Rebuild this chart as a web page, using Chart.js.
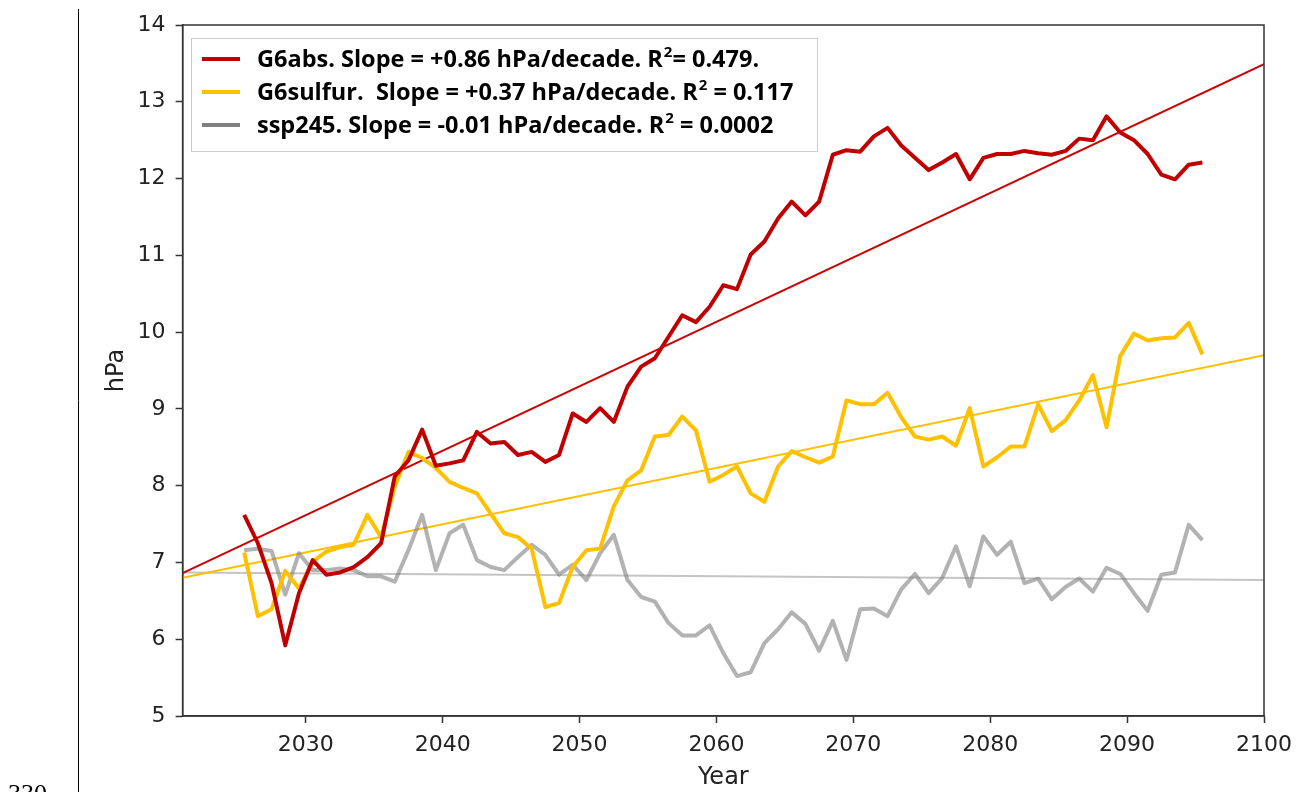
<!DOCTYPE html>
<html>
<head>
<meta charset="utf-8">
<title>Pressure trends</title>
<script src="https://cdn.jsdelivr.net/npm/chart.js@4.4.1/dist/chart.umd.min.js"></script>
<style>
  html, body { margin: 0; padding: 0; background: #fff; }
  #chart { display: block; }
</style>
</head>
<body>
<canvas id="chart" width="1298" height="792"></canvas>
<script>
// Years of the annual values
const years = [
  2025.5, 2026.5, 2027.5, 2028.5, 2029.5, 2030.5, 2031.5, 2032.5, 2033.5, 2034.5,
  2035.5, 2036.5, 2037.5, 2038.5, 2039.5, 2040.5, 2041.5, 2042.5, 2043.5, 2044.5,
  2045.5, 2046.5, 2047.5, 2048.5, 2049.5, 2050.5, 2051.5, 2052.5, 2053.5, 2054.5,
  2055.5, 2056.5, 2057.5, 2058.5, 2059.5, 2060.5, 2061.5, 2062.5, 2063.5, 2064.5,
  2065.5, 2066.5, 2067.5, 2068.5, 2069.5, 2070.5, 2071.5, 2072.5, 2073.5, 2074.5,
  2075.5, 2076.5, 2077.5, 2078.5, 2079.5, 2080.5, 2081.5, 2082.5, 2083.5, 2084.5,
  2085.5, 2086.5, 2087.5, 2088.5, 2089.5, 2090.5, 2091.5, 2092.5, 2093.5, 2094.5,
  2095.5
];

// hPa values per scenario
const g6absValues = [
  7.62, 7.25, 6.73, 5.92, 6.60, 7.03, 6.84, 6.87, 6.94, 7.07,
  7.25, 8.12, 8.33, 8.73, 8.26, 8.29, 8.33, 8.70, 8.55, 8.57,
  8.40, 8.44, 8.31, 8.40, 8.94, 8.83, 9.01, 8.83, 9.29, 9.55,
  9.66, 9.94, 10.22, 10.13, 10.33, 10.61, 10.56, 11.01, 11.18, 11.48,
  11.70, 11.52, 11.70, 12.31, 12.37, 12.35, 12.55, 12.66, 12.43, 12.27,
  12.11, 12.21, 12.32, 11.99, 12.27, 12.32, 12.32, 12.36, 12.33, 12.31,
  12.36, 12.52, 12.50, 12.81, 12.60, 12.50, 12.32, 12.05, 11.99, 12.18,
  12.21
];
const g6sulfurValues = [
  7.13, 6.30, 6.39, 6.89, 6.66, 7.01, 7.14, 7.20, 7.23, 7.62,
  7.33, 7.99, 8.44, 8.36, 8.23, 8.05, 7.97, 7.90, 7.64, 7.38,
  7.33, 7.18, 6.42, 6.47, 6.94, 7.16, 7.18, 7.73, 8.07, 8.20,
  8.64, 8.66, 8.90, 8.72, 8.05, 8.14, 8.25, 7.90, 7.79, 8.25,
  8.45, 8.37, 8.30, 8.38, 9.11, 9.06, 9.06, 9.21, 8.89, 8.64,
  8.60, 8.64, 8.52, 9.01, 8.25, 8.37, 8.51, 8.51, 9.06, 8.71,
  8.85, 9.11, 9.44, 8.76, 9.69, 9.98, 9.89, 9.92, 9.93, 10.12,
  9.71
];
const ssp245Values = [
  7.16, 7.18, 7.15, 6.58, 7.12, 6.90, 6.90, 6.92, 6.90, 6.82,
  6.82, 6.75, 7.16, 7.62, 6.90, 7.38, 7.49, 7.03, 6.94, 6.90,
  7.07, 7.23, 7.10, 6.84, 6.97, 6.77, 7.12, 7.36, 6.77, 6.55,
  6.49, 6.21, 6.05, 6.05, 6.18, 5.82, 5.52, 5.57, 5.95, 6.13,
  6.35, 6.20, 5.85, 6.24, 5.73, 6.39, 6.40, 6.30, 6.65, 6.85,
  6.60, 6.80, 7.21, 6.69, 7.34, 7.10, 7.27, 6.73, 6.79, 6.52,
  6.68, 6.79, 6.62, 6.93, 6.85, 6.60, 6.37, 6.84, 6.87, 7.49,
  7.29
];

// Linear fits, drawn across the whole axis
const trendYears = [2021, 2100];
const g6absTrend = [6.86, 13.49];
const g6sulfurTrend = [6.80, 9.70];
const ssp245Trend = [6.87, 6.77];

const seriesLabels = [
  'G6abs. Slope = +0.86 hPa/decade. R²= 0.479.',
  'G6sulfur.  Slope = +0.37 hPa/decade. R² = 0.117',
  'ssp245. Slope = -0.01 hPa/decade. R² = 0.0002'
];
const legendColors = ['#c00000', '#ffc000', '#7f7f7f'];

const xTicks = [2030, 2040, 2050, 2060, 2070, 2080, 2090, 2100];

function toPoints(xs, ys) {
  return xs.map((x, i) => ({ x: x, y: ys[i] }));
}

const AXIS_COLOR = '#333333';
const TICK_FONT = { family: 'DejaVu Sans', size: 22 };

/**
 * Frame, legend box and the stray bits round the figure
 */
const decorPlugin = {
  id: 'decor',
  afterDatasetsDraw(chart) {
    const { ctx, chartArea: a } = chart;
    ctx.save();

    // spines
    ctx.strokeStyle = AXIS_COLOR;
    ctx.lineWidth = 1.5;
    ctx.strokeRect(a.left, a.top, a.right - a.left, a.bottom - a.top);

    // legend
    const bx = 191, by = 38, bw = 626, bh = 113;
    ctx.fillStyle = 'rgba(255,255,255,0.85)';
    ctx.fillRect(bx, by, bw, bh);
    ctx.strokeStyle = '#cccccc';
    ctx.lineWidth = 1;
    ctx.strokeRect(bx + 0.5, by + 0.5, bw, bh);

    const rowY = [59, 92, 125];
    ctx.textBaseline = 'middle';
    seriesLabels.forEach((label, i) => {
      const y = rowY[i];
      ctx.strokeStyle = legendColors[i];
      ctx.lineWidth = 4;
      ctx.beginPath();
      ctx.moveTo(202, y);
      ctx.lineTo(240, y);
      ctx.stroke();

      const parts = label.split('²');
      let x = 257;
      ctx.fillStyle = '#000';
      ctx.font = 'bold 23.5px "Open Sans"';
      ctx.fillText(parts[0], x, y + 1);
      x += ctx.measureText(parts[0]).width;
      ctx.font = 'bold 15px "Open Sans"';
      ctx.fillText('2', x + 1, y - 6);
      x += ctx.measureText('2').width + 1;
      ctx.font = 'bold 23.5px "Open Sans"';
      ctx.fillText(parts[1], x, y + 1);
    });

    // page edge line and clipped page number from the source document
    ctx.strokeStyle = '#000';
    ctx.lineWidth = 1;
    ctx.beginPath();
    ctx.moveTo(78.5, 9);
    ctx.lineTo(78.5, 792);
    ctx.stroke();
    ctx.fillStyle = '#000';
    ctx.font = '26px "Liberation Serif"';
    ctx.textBaseline = 'top';
    ctx.fillText('330', 8, 782);

    ctx.restore();
  }
};

function initChart() {
  const ctx = document.getElementById('chart');

  new Chart(ctx, {
    type: 'line',
    data: {
      datasets: [
        { label: seriesLabels[0], data: toPoints(years, g6absValues),
          borderColor: '#c00000', borderWidth: 4 },
        { label: seriesLabels[1], data: toPoints(years, g6sulfurValues),
          borderColor: '#ffc000', borderWidth: 4 },
        { label: seriesLabels[2], data: toPoints(years, ssp245Values),
          borderColor: 'rgba(127,127,127,0.6)', borderWidth: 4 },
        { label: 'G6abs fit', data: toPoints(trendYears, g6absTrend),
          borderColor: '#cc0000', borderWidth: 2 },
        { label: 'G6sulfur fit', data: toPoints(trendYears, g6sulfurTrend),
          borderColor: '#ffc000', borderWidth: 2 },
        { label: 'ssp245 fit', data: toPoints(trendYears, ssp245Trend),
          borderColor: '#c4c4c4', borderWidth: 2 }
      ]
    },
    options: {
      responsive: false,
      devicePixelRatio: 1,
      animation: false,
      layout: { padding: { left: 0, right: 34, top: 25, bottom: 0 } },
      elements: {
        point: { radius: 0 },
        line: { tension: 0, borderJoinStyle: 'round', borderCapStyle: 'butt', fill: false }
      },
      plugins: {
        legend: { display: false },
        tooltip: { enabled: false }
      },
      scales: {
        x: {
          type: 'linear',
          min: 2021,
          max: 2100,
          afterBuildTicks: (scale) => { scale.ticks = xTicks.map(v => ({ value: v })); },
          afterFit: (scale) => {
            scale.height = 76;
            // keep the plot edge fixed; the layout padding already leaves room for "2100"
            scale.paddingRight = 0;
            scale.paddingLeft = 0;
          },
          ticks: { color: '#222', font: TICK_FONT, padding: 9, maxRotation: 0,
                   callback: (v) => String(v) },
          grid: { display: true, drawOnChartArea: false, drawTicks: true,
                  tickLength: 7, tickColor: AXIS_COLOR, tickWidth: 1.5 },
          border: { display: true, color: AXIS_COLOR, width: 1.5 },
          title: { display: true, text: 'Year', color: '#222',
                   font: { family: 'DejaVu Sans', size: 24 }, padding: { top: 0, bottom: 0 } }
        },
        y: {
          min: 5,
          max: 14,
          afterFit: (scale) => { scale.width = 182.6; },
          ticks: { stepSize: 1, color: '#222', font: TICK_FONT, padding: 10 },
          grid: { display: true, drawOnChartArea: false, drawTicks: true,
                  tickLength: 7, tickColor: AXIS_COLOR, tickWidth: 1.5 },
          border: { display: true, color: AXIS_COLOR, width: 1.5 },
          title: { display: true, text: 'hPa', color: '#222',
                   font: { family: 'DejaVu Sans', size: 24 }, padding: { top: 102, bottom: 0 } }
        }
      }
    },
    plugins: [decorPlugin]
  });
}

initChart();
</script>
</body>
</html>
